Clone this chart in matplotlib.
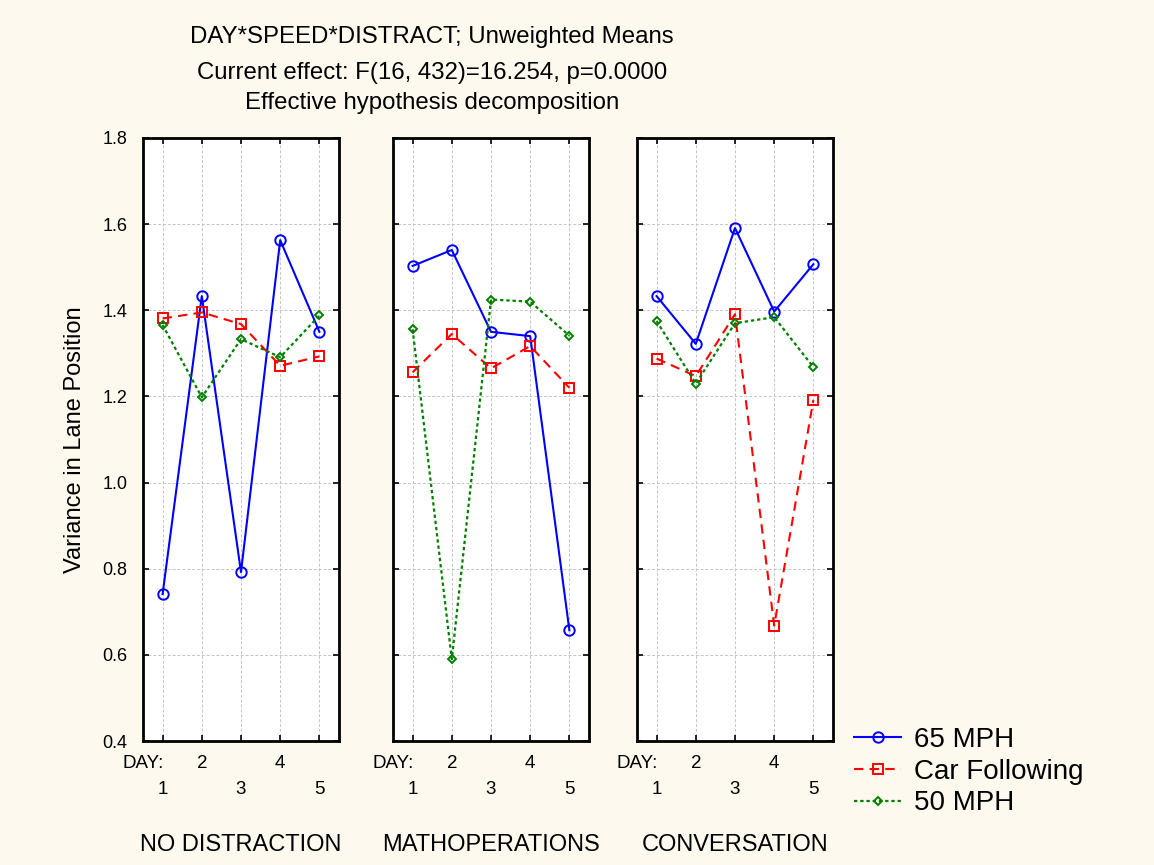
import numpy as np
import matplotlib.pyplot as plt
from matplotlib.patches import Rectangle

plt.rcParams['font.family'] = ['Liberation Sans', 'DejaVu Sans']

days = [1, 2, 3, 4, 5]
panels = ['NO DISTRACTION', 'MATHOPERATIONS', 'CONVERSATION']
series = ['65 MPH', 'Car Following', '50 MPH']

mph65 = [[0.741, 1.433, 0.792, 1.563, 1.350],
         [1.503, 1.540, 1.350, 1.340, 0.657],
         [1.433, 1.322, 1.591, 1.397, 1.507]]
car_following = [[1.381, 1.395, 1.368, 1.271, 1.293],
                 [1.256, 1.345, 1.265, 1.317, 1.220],
                 [1.288, 1.247, 1.391, 0.668, 1.192]]
mph50 = [[1.366, 1.198, 1.333, 1.291, 1.388],
         [1.356, 0.590, 1.425, 1.420, 1.341],
         [1.375, 1.230, 1.370, 1.384, 1.268]]

styles = [dict(color='#0000ff', ls='-', marker='o', ms=7.5, lw=1.5),
          dict(color='#ff0000', ls=(0, (4.5, 3)), marker='s', ms=7, lw=1.5),
          dict(color='#008000', ls=(0, (1.5, 1.3)), marker='D', ms=4.5, lw=1.6)]

W, H = 1154, 865
fig = plt.figure(figsize=(W / 100, H / 100), dpi=100, facecolor='#fdf9ee')

lefts = [143, 393, 637]
ax_w, ax_top, ax_bot = 196, 138, 741

handles = []
for i, name in enumerate(panels):
    ax = fig.add_axes([lefts[i] / W, 1 - ax_bot / H, ax_w / W, (ax_bot - ax_top) / H])
    ax.set_facecolor('white')
    for vals, st in zip([mph65[i], car_following[i], mph50[i]], styles):
        ln, = ax.plot(days, vals, mfc='none', mew=1.4, **st)
        if i == 0:
            handles.append(ln)
    ax.set_xlim(0.5, 5.5)
    ax.set_ylim(0.4, 1.8)
    ax.set_yticks(np.arange(0.4, 1.81, 0.2))
    ax.set_xticks(days)
    ax.set_xticklabels([])
    if i == 0:
        ax.set_yticklabels([f'{v:.1f}' for v in np.arange(0.4, 1.81, 0.2)], fontsize=13)
        ax.set_ylabel('Variance in Lane Position', fontsize=17, labelpad=12)
    else:
        ax.set_yticklabels([])
    ax.tick_params(direction='in', length=4, width=1.2, top=True, right=True, pad=11)
    ax.grid(True, color='#c4c4c4', ls=(0, (3, 2)), lw=0.7)
    for sp in ax.spines.values():
        sp.set_linewidth(2)

    tr = ax.get_xaxis_transform()
    ax.text(0.0, -0.038, 'DAY:', transform=ax.transAxes, ha='center', va='center', fontsize=13.5)
    for d in days:
        y = -0.038 if d % 2 == 0 else -0.081
        ax.text(d, y, str(d), transform=tr, ha='center', va='center', fontsize=13.5)
    t = ax.text(0.5, -0.172, name, transform=ax.transAxes, ha='center', va='center', fontsize=17)
    if i == 1:
        clip = Rectangle((0, 0), 605 / W, 1, transform=fig.transFigure)
        t.set_clip_path(clip)

fig.text(432 / W, 1 - 37 / H, 'DAY*SPEED*DISTRACT; Unweighted Means', ha='center', va='center', fontsize=17.3)
fig.text(432 / W, 1 - 73 / H, 'Current effect: F(16, 432)=16.254, p=0.0000', ha='center', va='center', fontsize=17.3)
fig.text(432 / W, 1 - 103 / H, 'Effective hypothesis decomposition', ha='center', va='center', fontsize=17.3)

fig.legend(handles, series, loc='upper left', bbox_to_anchor=(843 / W, 1 - 716 / H),
           frameon=False, fontsize=20, handlelength=1.7, handletextpad=0.45,
           labelspacing=0.2, borderaxespad=0)

fig.savefig('out.png', dpi=100, facecolor=fig.get_facecolor())
